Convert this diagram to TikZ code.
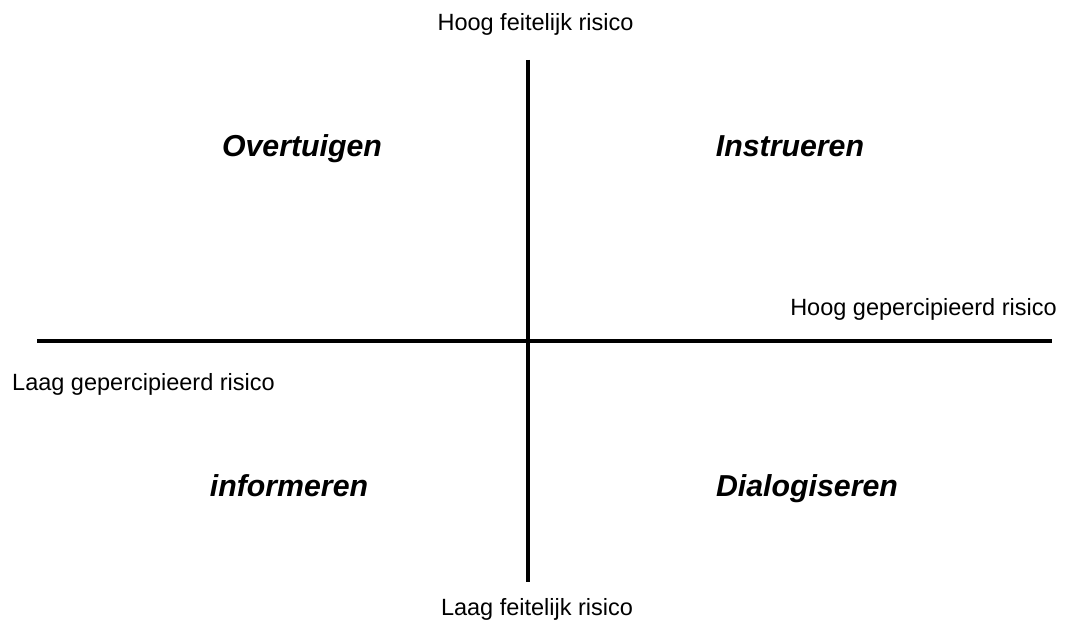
\documentclass[tikz,border=0pt]{standalone}
\usepackage{fontspec}
\setmainfont{Liberation Sans}
\begin{document}
\begin{tikzpicture}[x=1pt,y=-1pt,
  axis/.style={line width=3.8pt},
  axislabel/.style={anchor=base,inner sep=0pt,font=\fontsize{23.5}{28}\selectfont},
  quadlabel/.style={anchor=base,inner sep=0pt,font=\fontsize{30.3}{36}\selectfont\bfseries\itshape}]
\useasboundingbox (0,0) rectangle (1067,626);
\coordinate (vtop) at (528,60);
\coordinate (vbot) at (528,582);
\coordinate (hleft) at (37,341);
\coordinate (hright) at (1052,341);
\draw[axis] (vtop) -- (vbot);
\draw[axis] (hleft) -- (hright);
\node[axislabel] (hf) at (535.5,31) {Hoog feitelijk risico};
\node[axislabel] (lf) at (537,615) {Laag feitelijk risico};
\node[axislabel] (hg) at (923.5,315) {Hoog gepercipieerd risico};
\node[axislabel] (lg) at (143.5,390) {Laag gepercipieerd risico};
\node[quadlabel] (q1) at (302,156) {Overtuigen};
\node[quadlabel] (q2) at (790,156) {Instrueren};
\node[quadlabel] (q3) at (289,496) {informeren};
\node[quadlabel] (q4) at (807,496) {Dialogiseren};
\end{tikzpicture}
\end{document}
